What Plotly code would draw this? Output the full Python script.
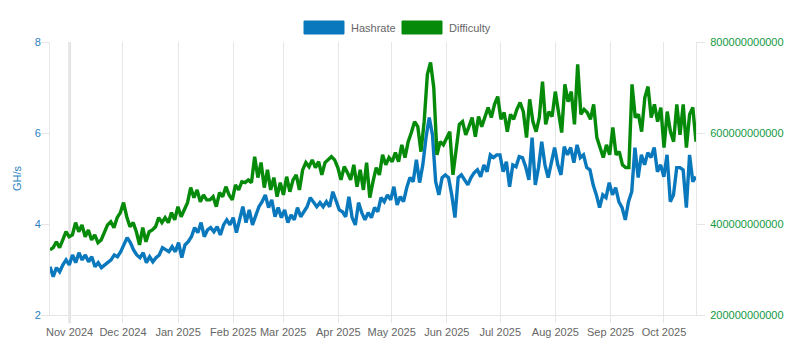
import pandas as pd
import plotly.graph_objects as go

start_date = "2024-10-21"
end_date = "2025-10-19"

hashrate = [
    3.06, 2.84, 3.04, 2.95, 3.10, 3.21, 3.10, 3.32, 3.15, 3.37,
    3.21, 3.32, 3.17, 3.28, 3.06, 3.15, 3.04, 3.10, 3.15, 3.21,
    3.32, 3.28, 3.39, 3.54, 3.70, 3.59, 3.43, 3.32, 3.26, 3.37,
    3.15, 3.28, 3.17, 3.26, 3.32, 3.48, 3.43, 3.39, 3.50, 3.39,
    3.59, 3.26, 3.54, 3.61, 3.72, 3.92, 3.81, 4.03, 3.72, 3.87,
    3.92,
    3.83, 3.94, 3.76, 3.98, 4.09, 3.98, 4.14, 3.81, 4.09, 4.38,
    4.03, 4.31, 3.98, 4.16, 4.38, 4.49, 4.64, 4.36, 4.53, 4.16,
    4.36, 4.14, 4.31, 4.03, 4.20, 4.09, 4.36, 4.16, 4.27, 4.38,
    4.58, 4.47, 4.38, 4.47, 4.38, 4.49, 4.38, 4.71, 4.53, 4.31,
    4.27, 4.16, 4.60, 4.14, 3.98, 4.47, 4.25, 4.09, 4.25,
    4.14, 4.36, 4.27, 4.58, 4.49, 4.64, 4.53, 4.82, 4.42, 4.60,
    4.49, 4.80, 5.02, 4.93, 5.41, 4.91, 5.30, 5.90, 6.34, 5.96,
    4.93, 4.64, 5.02, 5.08, 5.02, 4.64, 4.14, 5.02, 5.08, 4.97,
    4.86, 5.02, 5.13, 5.19, 5.04, 5.30, 5.15, 5.52, 5.46, 5.52,
    5.52, 5.15, 5.37, 4.82, 5.30, 5.26, 5.48, 5.46, 5.26, 4.97,
    5.90, 4.86,
    5.24, 5.81, 5.30, 5.02, 5.37, 5.68, 5.30, 5.08, 5.70, 5.52,
    5.68, 5.35, 5.74, 5.46, 5.52, 5.24, 5.19, 4.86, 4.64, 4.36,
    4.64, 4.58, 4.91, 4.64, 4.80, 4.49, 4.36, 4.09, 4.49, 4.71,
    5.68, 5.02, 5.52, 5.30, 5.57, 5.46, 5.68, 5.15, 5.30, 5.04,
    5.52, 4.49, 4.64, 5.24, 5.24, 5.19, 4.36, 5.52, 4.93, 5.04,
]

difficulty = [
    3.43e11, 3.48e11, 3.61e11, 3.48e11, 3.65e11, 3.83e11, 3.72e11, 3.76e11, 4.03e11, 3.83e11,
    3.98e11, 3.72e11, 3.87e11, 3.65e11, 3.76e11, 3.59e11, 3.65e11, 3.81e11, 3.98e11, 4.05e11,
    3.92e11, 4.14e11, 4.25e11, 4.47e11, 4.16e11, 3.94e11, 4.03e11, 3.83e11, 3.54e11, 3.92e11,
    3.61e11, 3.83e11, 3.87e11, 3.94e11, 4.14e11, 4.03e11, 4.14e11, 4.03e11, 4.25e11, 4.09e11,
    4.38e11, 4.16e11, 4.31e11, 4.47e11, 4.80e11, 4.58e11, 4.75e11, 4.49e11, 4.64e11, 4.53e11,
    4.53e11, 4.60e11, 4.38e11, 4.69e11, 4.60e11, 4.82e11, 4.64e11, 4.53e11, 4.86e11, 4.75e11,
    4.93e11, 4.91e11, 4.97e11, 4.91e11, 5.48e11, 5.02e11, 5.35e11, 4.80e11, 5.19e11, 4.75e11,
    5.02e11, 4.60e11, 4.91e11, 4.64e11, 5.04e11, 4.71e11, 4.97e11, 5.08e11, 4.75e11, 5.19e11,
    5.35e11, 5.26e11, 5.41e11, 5.24e11, 5.37e11, 5.08e11, 5.35e11, 5.41e11, 5.48e11, 5.41e11,
    5.24e11, 4.97e11, 5.26e11, 5.13e11, 4.97e11, 5.30e11, 4.82e11, 5.19e11, 4.75e11, 5.35e11,
    4.58e11, 4.93e11, 5.24e11, 5.08e11, 5.52e11, 5.30e11, 5.46e11, 5.37e11, 5.57e11, 5.37e11,
    5.74e11, 5.46e11, 5.81e11, 6.01e11, 6.25e11, 6.14e11, 5.59e11, 6.25e11, 7.29e11, 7.55e11,
    7.00e11, 5.52e11, 5.81e11, 5.74e11, 5.90e11, 6.03e11, 5.08e11, 5.68e11, 6.19e11, 6.25e11,
    5.96e11, 6.14e11, 6.34e11, 5.92e11, 6.36e11, 6.14e11, 6.34e11, 6.56e11, 6.34e11, 6.63e11,
    6.80e11, 6.30e11, 6.45e11, 6.03e11, 6.41e11, 6.30e11, 6.52e11, 6.67e11, 6.47e11, 5.90e11,
    6.74e11, 6.25e11,
    6.03e11, 6.34e11, 7.13e11, 6.19e11, 6.47e11, 6.36e11, 6.91e11, 6.47e11, 6.01e11, 7.07e11,
    6.69e11, 6.91e11, 6.19e11, 7.51e11, 6.41e11, 6.52e11, 6.45e11, 6.30e11, 6.63e11, 5.90e11,
    5.68e11, 5.46e11, 5.74e11, 5.52e11, 6.12e11, 5.52e11, 5.59e11, 5.30e11, 5.24e11, 5.24e11,
    7.07e11, 6.34e11, 6.41e11, 6.03e11, 6.78e11, 7.02e11, 6.34e11, 6.63e11, 6.25e11, 6.56e11,
    5.68e11, 6.47e11, 6.03e11, 5.81e11, 6.63e11, 5.96e11, 6.63e11, 5.68e11, 6.41e11, 6.56e11,
    5.81e11,
]

series_names = ["Hashrate", "Difficulty"]
left_axis_title = "GH/s"
marker_date = "2024-11-01"

BLUE = "#0a78bc"
GREEN = "#058a0a"
BLUE_TXT = "#2a80bd"
GREEN_TXT = "#13993f"
GRID = "#e6e6e6"
GRAY_TXT = "#666666"
FONT = "Liberation Sans, Arial, sans-serif"

dates_h = pd.date_range(start_date, end_date, periods=len(hashrate))
dates_d = pd.date_range(start_date, end_date, periods=len(difficulty))

fig = go.Figure()
fig.add_trace(go.Scatter(x=dates_h, y=hashrate, name=series_names[0], mode="lines",
                         line=dict(color=BLUE, width=3.4), yaxis="y"))
fig.add_trace(go.Scatter(x=dates_d, y=difficulty, name=series_names[1], mode="lines",
                         line=dict(color=GREEN, width=3.4), yaxis="y2"))

fig.update_layout(
    width=800, height=356,
    margin=dict(l=50, r=104, t=42, b=41),
    paper_bgcolor="white", plot_bgcolor="white",
    showlegend=False,
    font=dict(family=FONT, size=11, color=GRAY_TXT),
    xaxis=dict(
        range=[start_date, end_date],
        tick0="2024-11-01", dtick="M1", tickformat="%b %Y",
        showgrid=True, gridcolor=GRID, gridwidth=1,
        ticks="outside", ticklen=7, tickcolor=GRID,
        showline=True, linecolor=GRID, zeroline=False,
        tickfont=dict(size=11, color=GRAY_TXT),
    ),
    yaxis=dict(
        range=[2, 8], dtick=2, showgrid=False, zeroline=False,
        showline=True, linecolor=GRID, ticks="outside", ticklen=8, tickcolor=GRID,
        tickfont=dict(size=11, color=BLUE_TXT), ticklabelstandoff=-2,
        title=dict(text=left_axis_title, font=dict(size=11, color=BLUE_TXT), standoff=10),
    ),
    yaxis2=dict(
        range=[2e11, 8e11], dtick=2e11, tickformat="d", overlaying="y", side="right",
        showgrid=False, zeroline=False,
        showline=True, linecolor=GRID, ticks="outside", ticklen=8, tickcolor=GRID,
        tickfont=dict(size=11, color=GREEN_TXT), ticklabelstandoff=3,
    ),
)

# darker vertical marker line
fig.add_shape(type="line", xref="x", yref="paper", x0=marker_date, x1=marker_date,
              y0=-0.03, y1=1, line=dict(color="#cdcdcd", width=2), layer="below")

# custom legend (box swatches like the reference)
for x0, x1, col, label, tx in [(0.3932, 0.4551, BLUE, series_names[0], 0.4628),
                                (0.5449, 0.6068, GREEN, series_names[1], 0.6146)]:
    fig.add_shape(type="rect", xref="paper", yref="paper", x0=x0, x1=x1,
                  y0=1.0293, y1=1.0769, fillcolor=col, line=dict(color=col, width=1))
    fig.add_annotation(xref="paper", yref="paper", x=tx, y=1.0531, text=label,
                       showarrow=False, xanchor="left", yanchor="middle",
                       font=dict(size=11, color=GRAY_TXT, family=FONT))

fig.write_html("out.html")
